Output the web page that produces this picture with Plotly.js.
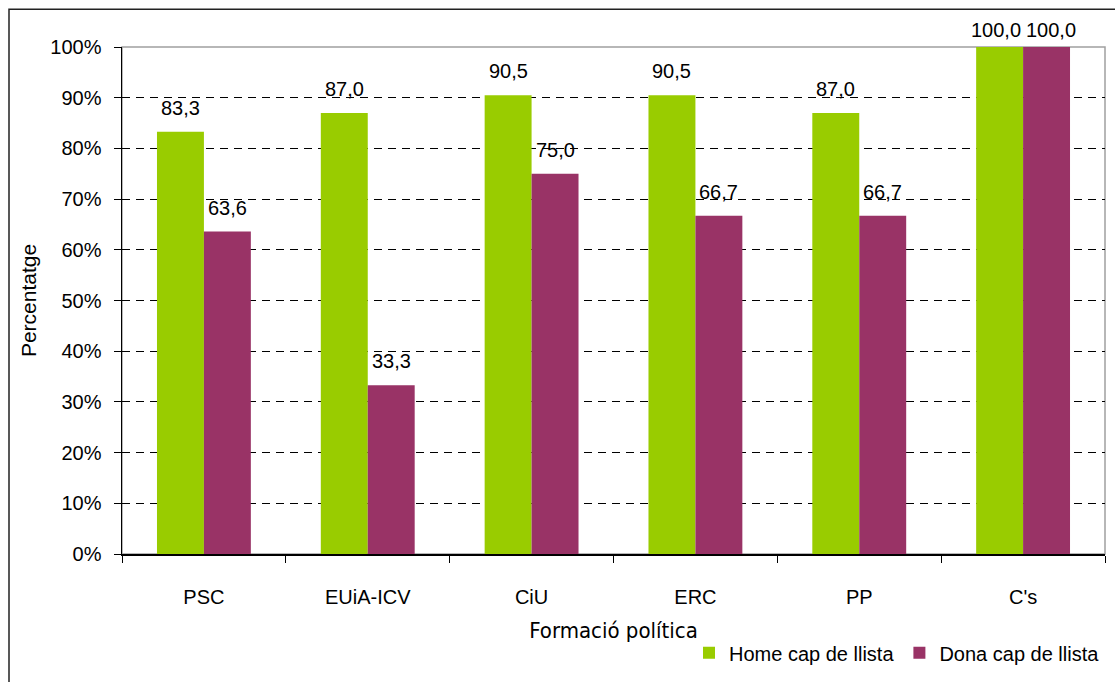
<!DOCTYPE html>
<html>
<head>
<meta charset="utf-8">
<script src="https://cdn.plot.ly/plotly-3.0.1.min.js"></script>
<style>html,body{margin:0;padding:0;background:#fff;}#chart{width:1115px;height:682px;}</style>
</head>
<body>
<div id="chart"></div>
<script>
const categories = ["PSC", "EUiA-ICV", "CiU", "ERC", "PP", "C's"];
const homeValues = [83.3, 87.0, 90.5, 90.5, 87.0, 100.0];
const donaValues = [63.6, 33.3, 75.0, 66.7, 66.7, 100.0];
const seriesNames = ["Home cap de llista", "Dona cap de llista"];
const yTickVals = [0, 10, 20, 30, 40, 50, 60, 70, 80, 90, 100];

const W = 1115, H = 682;
const M = {l: 122, r: 10, t: 47, b: 123};
const plotW = W - M.l - M.r, plotH = H - M.t - M.b;
const sans = "'Liberation Sans', Arial, sans-serif";
const green = "#99CC00", purple = "#993366";

const fmt = v => v.toFixed(1).replace('.', ',');

const traces = [
  {type: 'bar', name: seriesNames[0], x: categories, y: homeValues, marker: {color: green}, hoverinfo: 'x+y'},
  {type: 'bar', name: seriesNames[1], x: categories, y: donaValues, marker: {color: purple}, hoverinfo: 'x+y'}
];

const bargap = 0.427;
const barPx = plotW / categories.length * (1 - bargap) / 2;
function labelShift(v) {
  const topPx = M.t + plotH * (1 - v / 100);
  return Math.min(11, topPx - 43);
}
const annotations = [];
[homeValues, donaValues].forEach((vals, si) => {
  vals.forEach((v, i) => {
    const side = si === 0 ? -1 : 1;
    const tied = homeValues[i] === donaValues[i] ? 4 : 0;
    annotations.push({
      x: categories[i], y: v, xref: 'x', yref: 'y',
      text: fmt(v), showarrow: false,
      xanchor: 'center', yanchor: 'bottom',
      xshift: side * (barPx / 2 + tied),
      yshift: labelShift(v),
      font: {family: sans, size: 20, color: '#000'}
    });
  });
});

const layout = {
  width: W, height: H,
  margin: M,
  paper_bgcolor: '#fff', plot_bgcolor: '#fff',
  barmode: 'group', bargap: bargap, bargroupgap: 0,
  showlegend: true,
  legend: {orientation: 'h', x: 1, xanchor: 'right', y: -0.195, yanchor: 'middle',
           font: {family: sans, size: 20, color: '#000'}, traceorder: 'normal', itemwidth: 30},
  xaxis: {
    type: 'category', tickson: 'boundaries', ticks: 'outside', ticklen: 7, tickcolor: '#000',
    showline: true, linecolor: '#000', linewidth: 1.5, showgrid: false,
    tickfont: {family: sans, size: 20, color: '#000'},
    ticklabelstandoff: 24,
    title: {text: 'Formació política', font: {family: "'DejaVu Sans Condensed', 'DejaVu Sans', sans-serif", size: 22, color: '#000'}, standoff: 16}
  },
  yaxis: {
    range: [0, 100], tickvals: yTickVals, ticktext: yTickVals.map(v => v + '%'),
    ticks: 'outside', ticklen: 7, tickcolor: '#000',
    showline: true, linecolor: '#000', linewidth: 1.5,
    showgrid: true, gridcolor: '#000', gridwidth: 1, griddash: '8px,6px',
    zeroline: false,
    tickfont: {family: sans, size: 20, color: '#000'},
    ticklabelstandoff: 8,
    title: {text: 'Percentatge', font: {family: sans, size: 21, color: '#000'}, standoff: 8}
  },
  annotations: annotations,
  shapes: [
    {type: 'rect', xref: 'paper', yref: 'paper', x0: 0, x1: 1, y0: 0, y1: 1,
     line: {color: '#a0a0a0', width: 1.5}, layer: 'below'},
    {type: 'rect', xref: 'paper', yref: 'paper',
     x0: (9 - M.l) / plotW, x1: (W + 20 - M.l) / plotW,
     y0: (M.t + plotH - H - 20) / plotH, y1: (M.t + plotH - 9) / plotH,
     line: {color: '#222', width: 1.5}, layer: 'above'}
  ]
};

Plotly.newPlot('chart', traces, layout, {displayModeBar: false, staticPlot: true});
</script>
</body>
</html>
